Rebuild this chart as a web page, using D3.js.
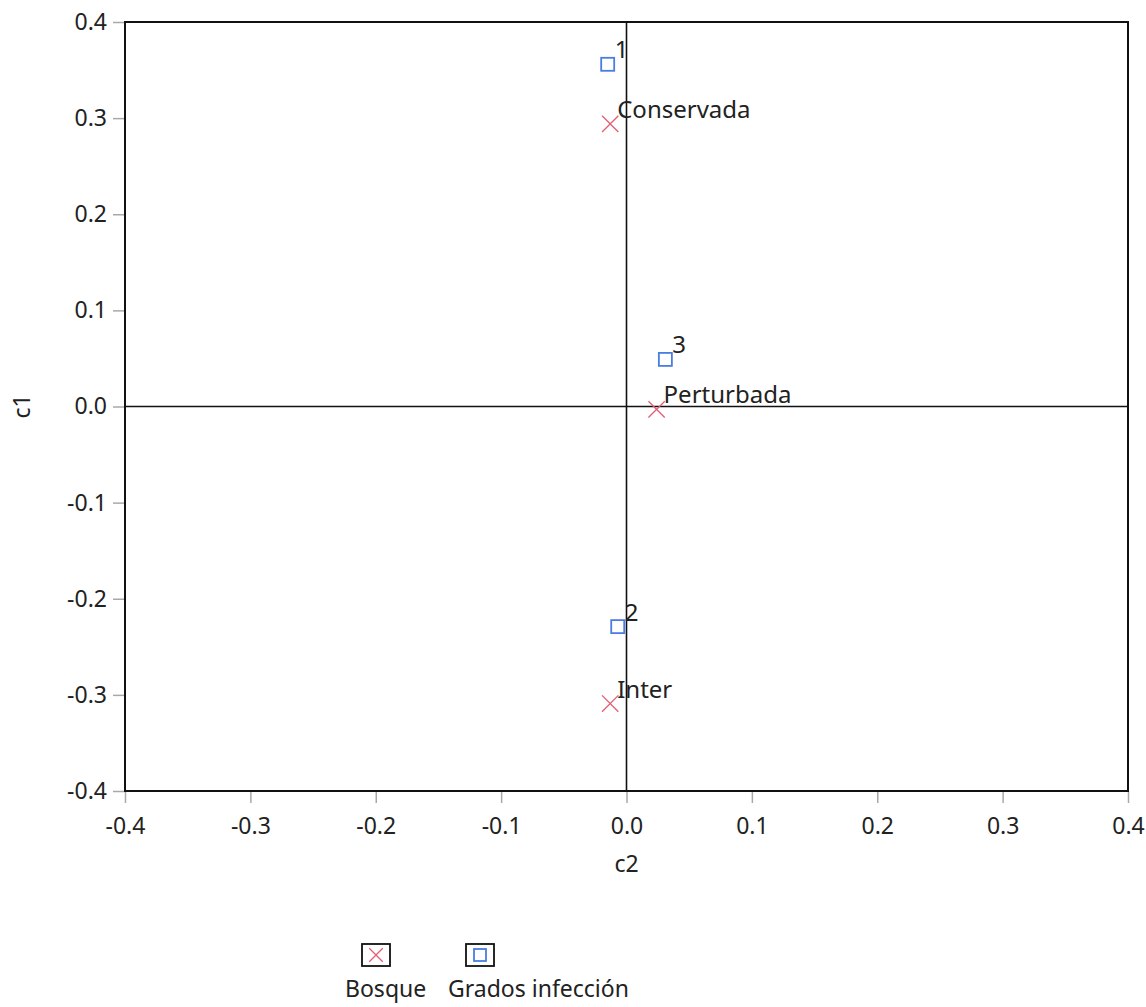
<!DOCTYPE html>
<html lang="es">
<head>
<meta charset="UTF-8">
<title>Análisis de correspondencia</title>
<script src="https://d3js.org/d3.v7.min.js"></script>
<style>
  body { margin: 0; background: #fff; }
  svg text { font-family: "Noto Sans", "Open Sans", sans-serif; }
</style>
</head>
<body>
<div id="chart"></div>
<script>
  // Bosque (row points)
  const bosqueLabels = ["Conservada", "Perturbada", "Inter"];
  const bosqueC2 = [-0.013, 0.024, -0.013];
  const bosqueC1 = [0.294, -0.003, -0.309];

  // Grados infección (column points)
  const gradosLabels = ["1", "3", "2"];
  const gradosC2 = [-0.015, 0.031, -0.007];
  const gradosC1 = [0.356, 0.049, -0.229];

  const ticks = [-0.4, -0.3, -0.2, -0.1, 0.0, 0.1, 0.2, 0.3, 0.4];

  const W = 1146, H = 1007;
  const margin = { top: 22, right: 18, bottom: 216, left: 125 };
  const width = W - margin.left - margin.right,
        height = H - margin.top - margin.bottom;
  const fs = "23px";

  const svg = d3.select("#chart").append("svg")
      .attr("width", W).attr("height", H);
  const g = svg.append("g")
      .attr("transform", `translate(${margin.left},${margin.top})`);

  const x = d3.scaleLinear().domain([-0.4, 0.4]).range([0, width]);
  const y = d3.scaleLinear().domain([-0.4, 0.4]).range([height, 0]);
  const fmt = d => d.toFixed(1);

  // axes
  const xAxis = g.append("g")
      .attr("transform", `translate(0,${height})`)
      .call(d3.axisBottom(x).tickValues(ticks).tickFormat(fmt).tickSize(12).tickPadding(15));
  const yAxis = g.append("g")
      .call(d3.axisLeft(y).tickValues(ticks).tickFormat(fmt).tickSize(12).tickPadding(6));
  [xAxis, yAxis].forEach(a => {
    a.select(".domain").remove();
    a.selectAll(".tick line").attr("stroke", "#a8a8a8").attr("stroke-width", 1.5);
    a.selectAll(".tick text").attr("fill", "#222").style("font-size", fs);
  });

  // frame
  g.append("rect")
      .attr("width", width).attr("height", height)
      .attr("fill", "none").attr("stroke", "#111").attr("stroke-width", 2);

  // reference lines at zero
  g.append("line")
      .attr("x1", x(0)).attr("x2", x(0)).attr("y1", 0).attr("y2", height)
      .attr("stroke", "#111").attr("stroke-width", 1.6);
  g.append("line")
      .attr("x1", 0).attr("x2", width).attr("y1", y(0)).attr("y2", y(0))
      .attr("stroke", "#111").attr("stroke-width", 1.6);

  // axis titles
  svg.append("text")
      .attr("x", margin.left + x(0)).attr("y", 872)
      .attr("text-anchor", "middle").attr("fill", "#222")
      .style("font-size", fs).text("c2");
  svg.append("text")
      .attr("transform", `translate(30,${margin.top + y(0)}) rotate(-90)`)
      .attr("text-anchor", "middle").attr("fill", "#222")
      .style("font-size", fs).text("c1");

  const red = "#e35d75", blue = "#4a7de0";
  const bosque = bosqueLabels.map((l, i) => ({ label: l, c2: bosqueC2[i], c1: bosqueC1[i] }));
  const grados = gradosLabels.map((l, i) => ({ label: l, c2: gradosC2[i], c1: gradosC1[i] }));

  const cross = d3.symbol().type(d3.symbolX).size(175);
  const crossSmall = d3.symbol().type(d3.symbolX).size(120);

  g.selectAll(".bosque")
    .data(bosque)
    .join("path")
      .attr("class", "bosque")
      .attr("d", cross)
      .attr("transform", d => `translate(${x(d.c2)},${y(d.c1)})`)
      .attr("fill", "none").attr("stroke", red).attr("stroke-width", 1.3);

  g.selectAll(".grados")
    .data(grados)
    .join("rect")
      .attr("class", "grados")
      .attr("x", d => x(d.c2) - 6.5).attr("y", d => y(d.c1) - 6.5)
      .attr("width", 13).attr("height", 13)
      .attr("fill", "none").attr("stroke", blue).attr("stroke-width", 1.8);

  g.selectAll(".lbl")
    .data(bosque.concat(grados))
    .join("text")
      .attr("class", "lbl")
      .attr("x", d => x(d.c2) + 7).attr("y", d => y(d.c1) - 6)
      .attr("fill", "#222")
      .style("font-size", "24px")
      .text(d => d.label);

  // legend
  const legend = svg.append("g");
  const items = [
    { name: "Bosque", cx: 376, tx: 345, type: "x" },
    { name: "Grados infección", cx: 480, tx: 448, type: "sq" }
  ];
  items.forEach(it => {
    legend.append("rect")
        .attr("x", it.cx - 14).attr("y", 944)
        .attr("width", 28).attr("height", 22)
        .attr("fill", "#fff").attr("stroke", "#111").attr("stroke-width", 1.8);
    if (it.type === "x") {
      legend.append("path")
          .attr("d", crossSmall)
          .attr("transform", `translate(${it.cx},955)`)
          .attr("fill", "none").attr("stroke", red).attr("stroke-width", 1.3);
    } else {
      legend.append("rect")
          .attr("x", it.cx - 6).attr("y", 949)
          .attr("width", 12).attr("height", 12)
          .attr("fill", "none").attr("stroke", blue).attr("stroke-width", 1.8);
    }
    legend.append("text")
        .attr("x", it.tx).attr("y", 997)
        .attr("fill", "#222")
        .style("font-size", fs)
        .text(it.name);
  });
</script>
</body>
</html>
